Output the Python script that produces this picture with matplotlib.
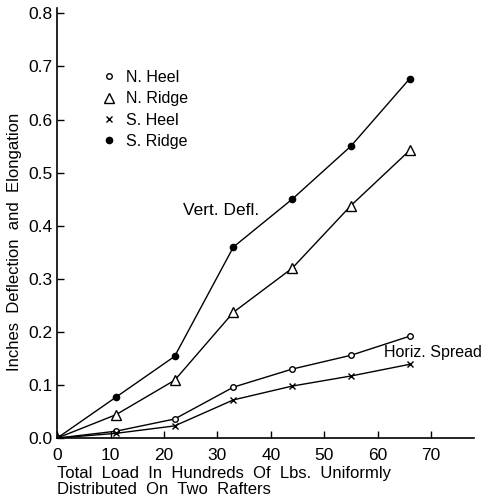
import matplotlib
matplotlib.use('Agg')
from matplotlib import pyplot as plt
from matplotlib.lines import Line2D

plt.rcParams['font.family'] = ['Liberation Sans', 'DejaVu Sans']

carga = [0, 11, 22, 33, 44, 55, 66]
n_heel = [0, 0.013, 0.036, 0.096, 0.130, 0.156, 0.192]
n_ridge = [0, 0.044, 0.109, 0.237, 0.320, 0.438, 0.542]
s_heel = [0, 0.009, 0.023, 0.072, 0.098, 0.117, 0.139]
s_ridge = [0, 0.077, 0.154, 0.360, 0.450, 0.550, 0.677]

x_ticks = [0, 10, 20, 30, 40, 50, 60, 70]
y_ticks = [0.0, 0.1, 0.2, 0.3, 0.4, 0.5, 0.6, 0.7, 0.8]

fig = plt.figure(figsize=(4.84, 5.03), dpi=100)
ax = fig.add_axes([0.118, 0.129, 0.861, 0.855])

ax.plot(carga, s_ridge, color='black', linewidth=1, marker='o', markersize=4.5,
        markerfacecolor='black', markeredgecolor='black')
ax.plot(carga, n_ridge, color='black', linewidth=1, marker='^', markersize=7,
        markerfacecolor='white', markeredgecolor='black', markeredgewidth=1)
ax.plot(carga, n_heel, color='black', linewidth=1, marker='o', markersize=4,
        markerfacecolor='white', markeredgecolor='black', markeredgewidth=1)
ax.plot(carga, s_heel, color='black', linewidth=1, marker='x', markersize=5,
        markeredgecolor='black', markeredgewidth=1)

ax.set_xlim(0, 78)
ax.set_ylim(0, 0.81)
ax.set_xticks(x_ticks)
ax.set_xticklabels([str(v) for v in x_ticks])
ax.set_yticks(y_ticks)
ax.set_yticklabels(['%.1f' % v for v in y_ticks])
ax.tick_params(direction='in', length=5, width=1, labelsize=12.5, colors='black')
ax.tick_params(axis='x', pad=7)
ax.spines['top'].set_visible(False)
ax.spines['right'].set_visible(False)
ax.spines['left'].set_linewidth(1.2)
ax.spines['bottom'].set_linewidth(1.2)

ax.set_ylabel('Inches  Deflection  and  Elongation', fontsize=12)
ax.yaxis.set_label_coords(-0.085, 0.456)
ax.set_xlabel('Total  Load  In  Hundreds  Of  Lbs.  Uniformly\nDistributed  On  Two  Rafters',
              fontsize=12, loc='left', labelpad=2, linespacing=1.1)

ax.text(23.6, 0.428, 'Vert. Defl.', fontsize=12.5, va='center')
ax.text(61.2, 0.162, 'Horiz. Spread', fontsize=11.5, va='center')

handles = [
    Line2D([], [], linestyle='none', marker='o', markersize=4, markerfacecolor='white',
           markeredgecolor='black'),
    Line2D([], [], linestyle='none', marker='^', markersize=7, markerfacecolor='white',
           markeredgecolor='black'),
    Line2D([], [], linestyle='none', marker='x', markersize=5, markeredgecolor='black'),
    Line2D([], [], linestyle='none', marker='o', markersize=4.5, markerfacecolor='black',
           markeredgecolor='black'),
]
ax.legend(handles, ['N. Heel', 'N. Ridge', 'S. Heel', 'S. Ridge'], loc='upper left',
          bbox_to_anchor=(0.07, 0.89), frameon=False, fontsize=11.5, handlelength=1,
          handletextpad=0.6, labelspacing=0.4)

fig.savefig('out.png', dpi=100, facecolor='white')
